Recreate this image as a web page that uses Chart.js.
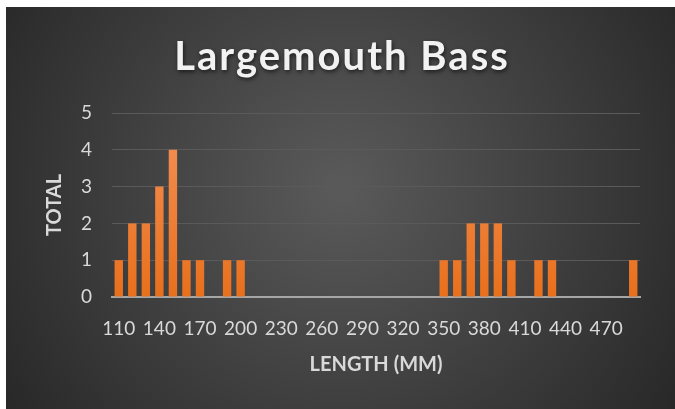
<!DOCTYPE html>
<html>
<head>
<meta charset="utf-8">
<script src="https://cdn.jsdelivr.net/npm/chart.js@4"></script>
<style>
    html, body { margin: 0; padding: 0; background: #ffffff; }
    #wrap { position: absolute; left: 6px; top: 7px; width: 669px; height: 402px; }
</style>
</head>
<body>
<div id="wrap"><canvas id="bassChart"></canvas></div>
<script>
// Length classes (mm) and fish counts
const lengths = [110, 120, 130, 140, 150, 160, 170, 180, 190, 200,
    210, 220, 230, 240, 250, 260, 270, 280, 290, 300,
    310, 320, 330, 340, 350, 360, 370, 380, 390, 400,
    410, 420, 430, 440, 450, 460, 470, 480, 490];
const totals = [1, 2, 2, 3, 4, 1, 1, 0, 1, 1,
    0, 0, 0, 0, 0, 0, 0, 0, 0, 0,
    0, 0, 0, 0, 1, 1, 2, 2, 2, 1,
    0, 1, 1, 0, 0, 0, 0, 0, 1];
const yTicks = [0, 1, 2, 3, 4, 5];

const chartTitle = "Largemouth Bass";
const xTitle = "LENGTH (MM)";
const yTitle = "TOTAL";

// Dark radial background behind everything
const backgroundPlugin = {
    id: "darkBackground",
    beforeDraw(chart) {
        const ctx = chart.ctx;
        const w = chart.width, h = chart.height;
        const g = ctx.createRadialGradient(w * 0.5, h * 0.45, 10, w * 0.5, h * 0.45, w * 0.62);
        g.addColorStop(0, "#595959");
        g.addColorStop(1, "#262626");
        ctx.save();
        ctx.fillStyle = g;
        ctx.fillRect(0, 0, w, h);
        ctx.restore();
    }
};

// Title with letter spacing and soft shadow
const titlePlugin = {
    id: "spacedTitle",
    afterDraw(chart) {
        const ctx = chart.ctx;
        ctx.save();
        ctx.font = "bold 40px Lato";
        if ("letterSpacing" in ctx) ctx.letterSpacing = "2px";
        ctx.textAlign = "center";
        ctx.textBaseline = "middle";
        ctx.shadowColor = "rgba(0,0,0,0.6)";
        ctx.shadowBlur = 4;
        ctx.shadowOffsetX = 1;
        ctx.shadowOffsetY = 2;
        ctx.fillStyle = "#f2f2f2";
        ctx.fillText(chartTitle, 336, 50);
        ctx.restore();
    }
};

const ctx = document.getElementById("bassChart").getContext("2d");
const barFill = ctx.createLinearGradient(0, 105, 0, 290);
barFill.addColorStop(0, "#f4925a");
barFill.addColorStop(1, "#e8701c");

const bassChart = new Chart(ctx, {
    type: "bar",
    data: {
        labels: lengths,
        datasets: [{
            label: "Total",
            data: totals,
            backgroundColor: barFill,
            borderWidth: 0,
            barPercentage: 0.62,
            categoryPercentage: 1.0
        }]
    },
    options: {
        responsive: true,
        maintainAspectRatio: false,
        animation: false,
        layout: {
            padding: { top: 106, right: 35, bottom: 0, left: 0 }
        },
        plugins: {
            legend: { display: false },
            title: { display: false },
            tooltip: { enabled: false }
        },
        scales: {
            x: {
                grid: { display: false, drawTicks: false },
                border: { display: true, color: "#a6a6a6", width: 2 },
                ticks: {
                    color: "#d9d9d9",
                    font: { family: "Lato", size: 19 },
                    padding: 20,
                    autoSkip: false,
                    maxRotation: 0,
                    callback: function (value, index) {
                        return index % 3 === 0 ? lengths[index] : "";
                    }
                },
                title: {
                    display: true,
                    text: xTitle,
                    color: "#d9d9d9",
                    font: { family: "Lato", size: 20, weight: "bold" },
                    padding: { top: 0, bottom: 32 }
                },
                afterFit: function (scale) { scale.height = 112; }
            },
            y: {
                min: 0,
                max: 5,
                afterBuildTicks: function (scale) {
                    scale.ticks = yTicks.map(v => ({ value: v }));
                },
                grid: { color: "#5a5a5a", lineWidth: 1, drawTicks: false },
                border: { display: false },
                ticks: {
                    color: "#d9d9d9",
                    font: { family: "Lato", size: 19 },
                    padding: 20
                },
                title: {
                    display: true,
                    text: yTitle,
                    color: "#d9d9d9",
                    font: { family: "Lato", size: 20, weight: "bold" },
                    padding: { top: 37, bottom: 0 }
                },
                afterFit: function (scale) { scale.width = 106; }
            }
        }
    },
    plugins: [backgroundPlugin, titlePlugin]
});
</script>
</body>
</html>
